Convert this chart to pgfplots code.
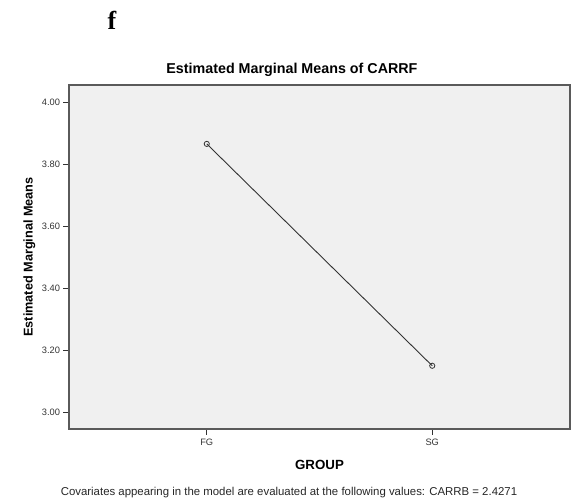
\documentclass[border=0pt]{standalone}
\usepackage{pgfplots}
\pgfplotsset{compat=1.18}
\usepackage{fontspec}
\setmainfont{Liberation Sans}
\newfontfamily\serifb{Liberation Serif}
\definecolor{bgc}{HTML}{F0F0F0}
\definecolor{framec}{HTML}{5A5A5A}
\definecolor{linec}{HTML}{333333}
\begin{document}
\begin{tikzpicture}
\useasboundingbox (0pt,0pt) rectangle (573pt,501pt);
\node[font={\serifb\bfseries\fontsize{26}{26}\selectfont}] at (112pt,481pt) {f};
\begin{axis}[
  at={(69pt,72pt)}, anchor=south west,
  scale only axis, width=501pt, height=344pt,
  xmin=-0.611, xmax=1.611,
  ymin=2.947, ymax=4.057,
  xtick={0,1}, xticklabels={FG,SG},
  ytick={3.0,3.2,3.4,3.6,3.8,4.0},
  yticklabel style={/pgf/number format/.cd,fixed,fixed zerofill,precision=2},
  /pgf/number format/assume math mode=true,
  tick label style={font=\fontsize{9.3}{9.3}\selectfont, text=linec},
  xticklabel style={yshift=-1pt},
  tick align=outside, tick pos=left,
  major tick length=5.5pt,
  every tick/.style={linec, line width=0.8pt},
  axis background/.style={fill=bgc},
  axis line style={framec, line width=1.3pt},
  title={Estimated Marginal Means of CARRF},
  title style={font=\bfseries\fontsize{14.3}{14.3}\selectfont, at={(0.445,1)}, anchor=base, yshift=5.7pt},
  xlabel={GROUP},
  xlabel style={font=\bfseries\fontsize{13.3}{13.3}\selectfont, at={(0.5,0)}, anchor=base, yshift=-40pt},
  ylabel={Estimated Marginal Means},
  ylabel style={font=\bfseries\fontsize{12.7}{12.7}\selectfont, at={(-0.079,0.5)}, anchor=center},
  clip=false,
]
\addplot[linec, line width=0.9pt, mark=o, mark size=2.6pt, mark options={line width=0.8pt, draw=linec}] coordinates {(0,3.867) (1,3.151)};
\end{axis}
\node[font=\fontsize{11.4}{11.4}\selectfont, text=black!85, anchor=base] at (289pt,5.3pt) {Covariates appearing in the model are evaluated at the following values: CARRB = 2.4271};
\end{tikzpicture}
\end{document}
